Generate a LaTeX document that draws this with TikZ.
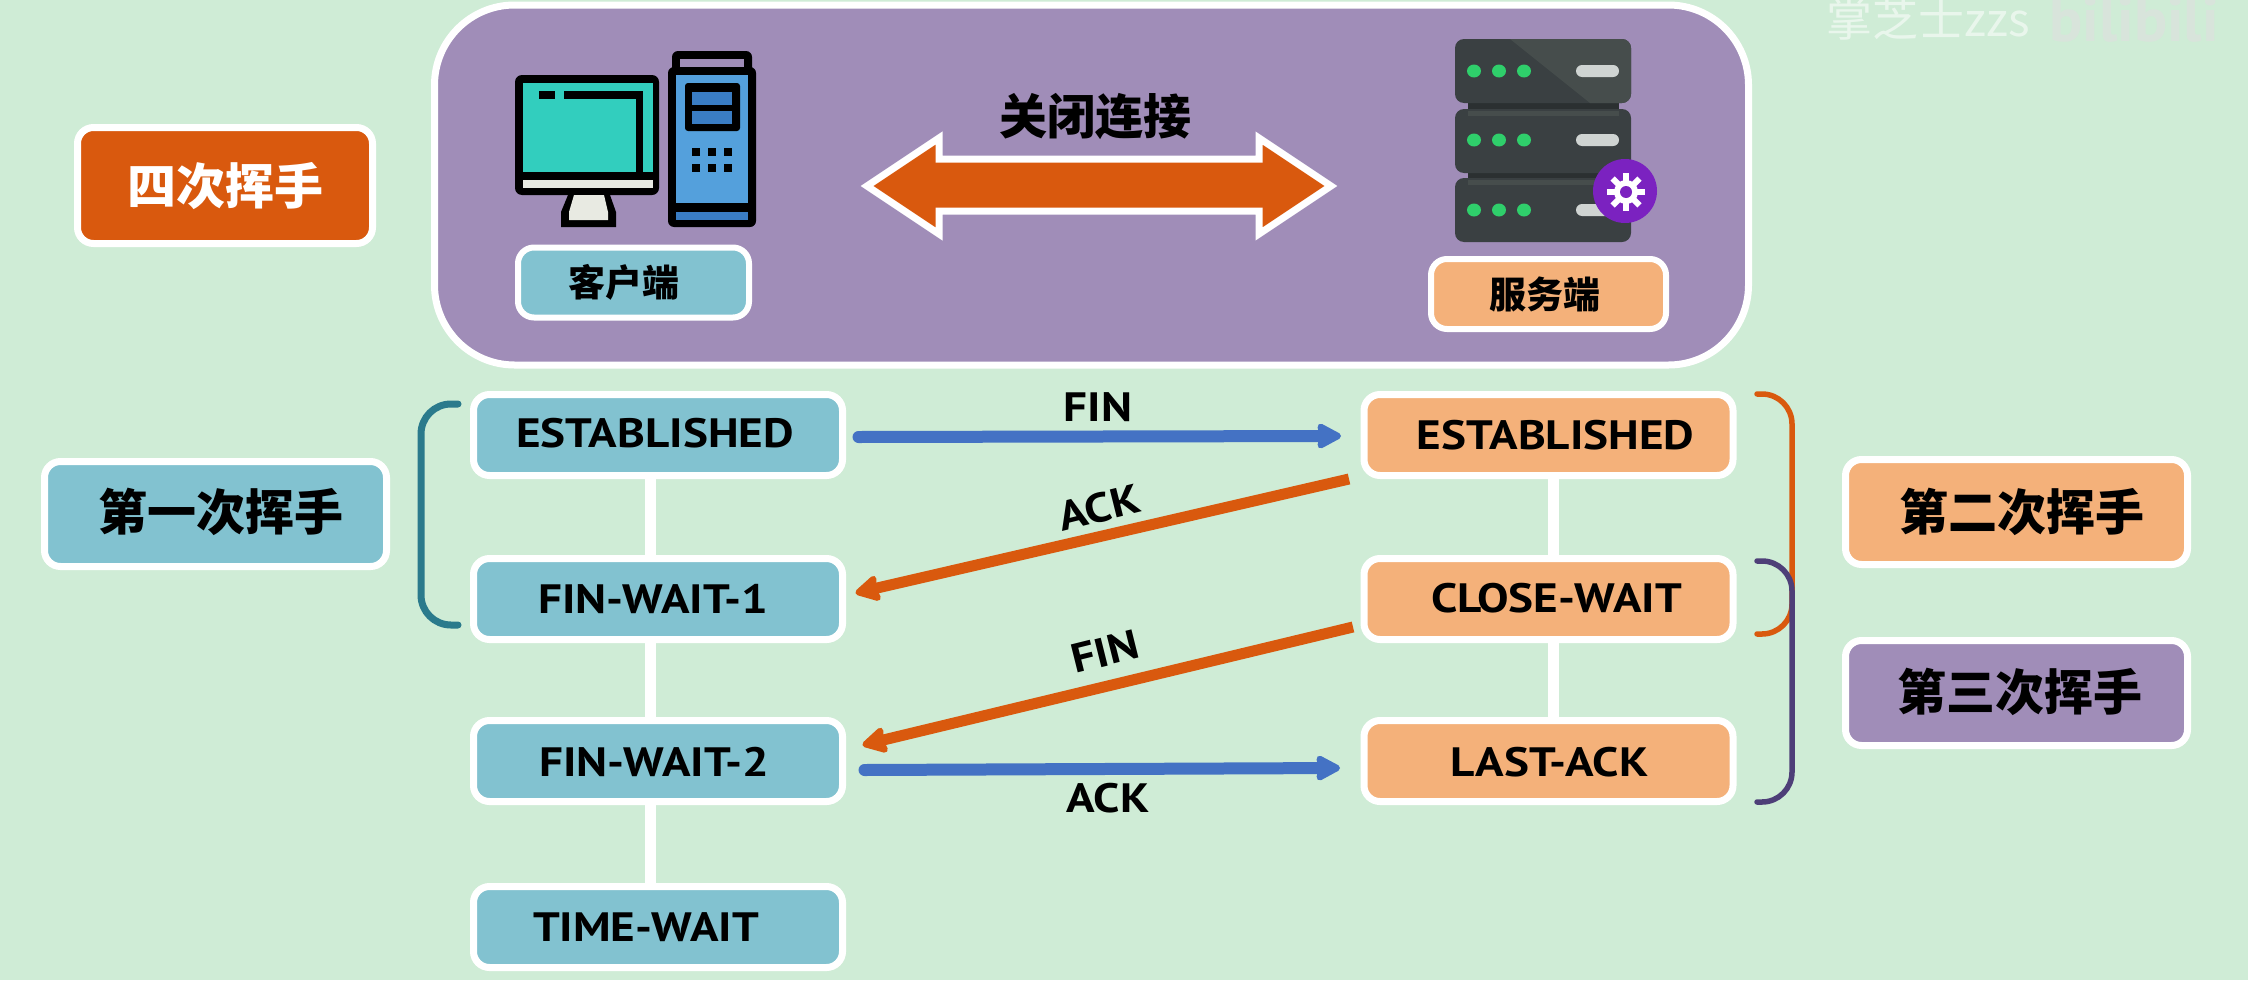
\documentclass[tikz,border=0pt]{standalone}
\usepackage{fontspec}
\setmainfont{PT Sans}[FakeStretch=1.15]
\newfontfamily\bilifont{PT Sans}
\newfontfamily\cjk{Noto Sans CJK SC}
\usetikzlibrary{arrows.meta}
\definecolor{bgc}{RGB}{207,236,214}
\definecolor{tealc}{RGB}{130,194,208}
\definecolor{salmon}{RGB}{244,177,122}
\definecolor{purp}{RGB}{160,141,184}
\definecolor{orng}{RGB}{217,89,14}
\definecolor{bluec}{RGB}{68,114,196}
\definecolor{brteal}{RGB}{43,122,140}
\definecolor{brpurp}{RGB}{78,63,120}
\definecolor{srv}{RGB}{58,64,66}
\definecolor{srvl}{RGB}{70,77,76}
\definecolor{srvd}{RGB}{43,48,49}
\definecolor{led}{RGB}{47,207,107}
\definecolor{pill}{RGB}{207,212,210}
\definecolor{gearc}{RGB}{123,34,192}
\definecolor{scr}{RGB}{50,206,190}
\definecolor{towb}{RGB}{84,160,220}
\definecolor{towd}{RGB}{58,125,196}
\definecolor{offw}{RGB}{232,234,226}
\newcommand\nudge[3]{\raisebox{#2pt}{\hspace*{\dimexpr#1pt*2\relax}#3}}
\tikzset{
  x=1pt,y=-1pt,
  boxbase/.style={draw=white,line width=7pt,rounded corners=16pt,inner sep=0pt,outer sep=0pt,text=black},
  statebox/.style={boxbase,minimum width=369pt,minimum height=81pt,
    font=\fontsize{41}{41}\selectfont\bfseries,text height=30pt,text depth=0pt},
  stepbox/.style={boxbase,minimum width=342pt,minimum height=105pt,
    font=\cjk\fontsize{49}{49}\selectfont\bfseries,text height=43pt,text depth=6pt},
  endbox/.style={boxbase,line width=6pt,font=\cjk\fontsize{37}{37}\selectfont\bfseries,text height=32.5pt,text depth=4.5pt},
  lifeline/.style={draw=white,line width=11pt},
  msgblue/.style={draw=bluec,line width=12pt,-{Stealth[inset=3pt,length=28pt,width=29pt,round]}},
  msgorange/.style={draw=orng,line width=11pt,-{Stealth[inset=3pt,length=28pt,width=30pt,round]}},
  msglabel/.style={inner sep=0pt,font=\fontsize{41}{41}\selectfont\bfseries,text height=30pt,text depth=0pt},
  brace/.style={line width=#1,rounded corners=30pt,line cap=round},
}
\begin{document}
\begin{tikzpicture}
\useasboundingbox (0,0) rectangle (2248,980);
\fill[bgc] (0,0) rectangle (2248,980);

% watermark
\node[inner sep=0pt,text=white,opacity=.55,font=\cjk\fontsize{46}{46}\selectfont] (wm) at (1928,19) {掌芝士zzs};
\node[inner sep=0pt,text=gray!25,opacity=.6,font=\bilifont\fontsize{62}{62}\selectfont\bfseries] (bili) at (2134,20) {bilibili};

% top panel
\node[draw=white,line width=7pt,fill=purp,rounded corners=80pt,minimum width=1314pt,minimum height=360pt,inner sep=0pt,outer sep=0pt] (panel) at (1091.5,185) {};

% title box
\node[boxbase,fill=orng,text=white,minimum width=295pt,minimum height=116pt,
  font=\cjk\fontsize{49}{49}\selectfont\bfseries,text height=43pt,text depth=6pt] (title) at (225,185.5) {四次挥手};

% computer icon
\fill[black,rounded corners=7pt] (515,75) rectangle (659,195);
\fill[scr] (523,83) rectangle (653,172);
\fill[offw] (523,180) rectangle (653,188);
\fill[black] (539,91) rectangle (555,99);
\fill[black] (564,91) rectangle (643,99);
\fill[black] (636,91) rectangle (643,172);
\fill[black] (568,195) -- (610,195) -- (616,212) -- (616,227) -- (561,227) -- (561,212) -- cycle;
\fill[offw] (574,195) -- (604,195) -- (608,212) -- (608,220) -- (569,220) -- (569,212) -- cycle;
\fill[black,rounded corners=6pt] (672,51) rectangle (752,80);
\fill[purp] (680,59) rectangle (744,67);
\fill[black,rounded corners=6pt] (668,67) rectangle (756,227);
\fill[towb] (676,75) rectangle (748,203);
\fill[towd] (676,212) rectangle (748,220);
\fill[black,rounded corners=3pt] (685,83) rectangle (740,131);
\fill[towd] (692,92) rectangle (732,105);
\fill[towd] (692,111) rectangle (732,124);
\foreach \i in {692,708,724}{
  \fill[black] (\i,148) rectangle +(8,8);
  \fill[black] (\i,164) rectangle +(8,8);
}

% server icon
\fill[srvd] (1468,95) rectangle (1619,185);
\foreach \t in {39,109,178}{
  \fill[srv,rounded corners=9pt] (1455,\t) rectangle (1631,\t+64);
}
\begin{scope}
  \clip[rounded corners=9pt] (1455,39) rectangle (1631,103);
  \fill[srvl] (1510,39) -- (1631,39) -- (1631,103) -- (1590,103) -- cycle;
\end{scope}
\fill[srvl] (1468,111) rectangle (1619,116);
\fill[srvl] (1468,180) rectangle (1619,185);
\foreach \y in {71,140,210}{
  \foreach \x in {1474,1499,1524}{ \fill[led] (\x,\y) ellipse [x radius=7pt,y radius=6.5pt]; }
  \fill[pill,rounded corners=6pt] (1576,\y-6) rectangle (1619,\y+6);
}
\fill[gearc] (1625,191) ellipse [x radius=32pt,y radius=32pt];
\foreach \a in {0,45,...,135}{
  \fill[white,rotate around={\a:(1626,192)}] (1623,173) rectangle (1629,211);
}
\fill[white] (1626,192) circle [radius=12pt];
\fill[gearc] (1626,192) circle [radius=6pt];

% closing arrow
\fill[orng,draw=white,line width=7pt,miter limit=10]
  (867,186) -- (939,138) -- (939,159) -- (1259,159) -- (1259,138) -- (1331,186)
  -- (1259,234) -- (1259,211) -- (939,211) -- (939,234) -- cycle;
\node[inner sep=0pt,font=\cjk\fontsize{48}{48}\selectfont\bfseries,text height=42pt,text depth=6pt] (closing) at (1095,116) {关闭连接};

% end boxes
\node[endbox,fill=tealc,minimum width=231pt,minimum height=70pt] (client) at (633.5,282.5) {\nudge{-10}{0}{客户端}};
\node[endbox,fill=salmon,minimum width=235pt,minimum height=70pt] (server) at (1548.5,294) {\nudge{-4}{0}{服务端}};

% lifelines
\coordinate (lx) at (650,0);
\coordinate (rx) at (1553,0);
\node[statebox,fill=tealc] (le) at (658,435) {\nudge{-3}{3}{ESTABLISHED}};
\node[statebox,fill=tealc] (lf) at (658,599) {\nudge{-5}{1}{FIN-WAIT-1}};
\node[statebox,fill=tealc] (ls) at (658,761) {\nudge{-4}{0}{FIN-WAIT-2}};
\node[statebox,fill=tealc] (lt) at (658,927) {\nudge{-12}{1}{TIME-WAIT}};
\node[statebox,fill=salmon] (re) at (1548.5,435) {\nudge{7}{1}{ESTABLISHED}};
\node[statebox,fill=salmon] (rc) at (1548.5,599) {\nudge{8}{2}{CLOSE-WAIT}};
\node[statebox,fill=salmon] (rl) at (1548.5,761) {\nudge{1}{0}{LAST-ACK}};
\draw[lifeline] (le.south -| lx) -- (lf.north -| lx);
\draw[lifeline] (lf.south -| lx) -- (ls.north -| lx);
\draw[lifeline] (ls.south -| lx) -- (lt.north -| lx);
\draw[lifeline] (re.south -| rx) -- (rc.north -| rx);
\draw[lifeline] (rc.south -| rx) -- (rl.north -| rx);

% messages
\draw[msgblue,line cap=round] ([shift={(16,2)}]le.east) -- ([shift={(-23,1)}]re.west);
\draw[msgorange] ([shift={(-15,44)}]re.west) -- ([shift={(13,-6)}]lf.east);
\draw[msgorange] ([shift={(-11,28)}]rc.west) -- ([shift={(20,-16)}]ls.east);
\draw[msgblue,line cap=round] ([shift={(22,9)}]ls.east) -- ([shift={(-24,7)}]rl.west);

\node[msglabel] (m1) at (1098,406) {FIN};
\node[msglabel,rotate=14] (m2) at (1099,507) {ACK};
\node[msglabel,rotate=14] (m3) at (1105,651) {FIN};
\node[msglabel] (m4) at (1108,797) {ACK};

% step boxes
\node[stepbox,fill=tealc] (s1) at (215.5,514) {\nudge{5}{2}{第一次挥手}};
\node[stepbox,fill=salmon] (s2) at (2016.5,512) {\nudge{5}{0}{第二次挥手}};
\node[stepbox,fill=purp] (s3) at (2016.5,693) {\nudge{3}{1}{第三次挥手}};

% braces
\draw[brace=7pt,draw=brteal] (458,404) -- (421,404) -- (421,625) -- (458,625);
\draw[brace=5.5pt,draw=orng] (1757,394) -- (1792,394) -- (1792,634) -- (1757,634);
\draw[brace=5.5pt,draw=brpurp] (1757,561) -- (1792,561) -- (1792,802) -- (1757,802);
\end{tikzpicture}
\end{document}
